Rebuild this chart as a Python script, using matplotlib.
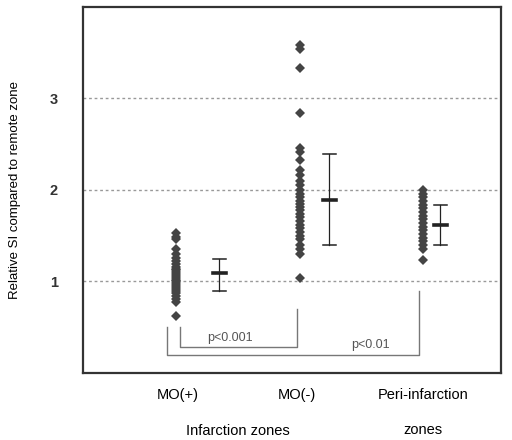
import numpy as np
import matplotlib
matplotlib.use("Agg")
import matplotlib.pyplot as plt

plt.rcParams['font.family'] = ['Liberation Sans', 'DejaVu Sans']

# values
mo_pos = [1.53, 1.49, 1.46, 1.35, 1.30, 1.26, 1.22, 1.19, 1.16, 1.14, 1.12, 1.10,
          1.08, 1.06, 1.04, 1.02, 1.00, 0.98, 0.96, 0.94, 0.92, 0.90, 0.87,
          0.84, 0.81, 0.78, 0.62]
mo_neg = [3.58, 3.54, 3.33, 2.84, 2.46, 2.41, 2.33, 2.22, 2.16, 2.10, 2.05, 2.00,
          1.96, 1.92, 1.88, 1.85, 1.81, 1.78, 1.74, 1.70, 1.66, 1.62, 1.58,
          1.54, 1.50, 1.46, 1.40, 1.35, 1.30, 1.04]
peri = [2.00, 1.96, 1.92, 1.88, 1.84, 1.80, 1.76, 1.72, 1.68, 1.64, 1.60, 1.56,
        1.52, 1.48, 1.44, 1.40, 1.36, 1.23]
groups = [mo_pos, mo_neg, peri]
means = [1.09, 1.89, 1.62]
err_low = [0.90, 1.40, 1.40]
err_high = [1.25, 2.39, 1.83]

yticks = [1, 2, 3]
p_labels = ["p<0.001", "p<0.01"]

# layout
group_x = [0.93, 2.17, 3.40]
err_x = [1.36, 2.46, 3.57]

fig = plt.figure(figsize=(5.12, 4.4), dpi=100)
ax = fig.add_axes([0.162, 0.152, 0.817, 0.833])
ax.set_xlim(0, 4.18)
ax.set_ylim(0, 4)

for y in yticks:
    ax.axhline(y, color='#999999', lw=1, ls=(0, (2, 2)), zorder=0)

# data points
for gx, vals in zip(group_x, groups):
    ax.plot([gx] * len(vals), vals, 'D', color='#444444', markersize=5.2,
            markeredgewidth=0, zorder=3)

# mean +/- error bars
for ex, m, lo, hi in zip(err_x, means, err_low, err_high):
    ax.plot([ex, ex], [lo, hi], color='#222222', lw=0.9)
    ax.plot([ex - 0.065, ex + 0.065], [lo, lo], color='#222222', lw=1.1)
    ax.plot([ex - 0.065, ex + 0.065], [hi, hi], color='#222222', lw=1.1)
    ax.plot([ex - 0.065, ex + 0.065], [m, m], color='#222222', lw=2.6)

# significance brackets
ax.plot([0.97, 0.97, 2.14, 2.14], [0.50, 0.28, 0.28, 0.70], color='#777777', lw=1)
ax.plot([0.84, 0.84, 3.36, 3.36], [0.50, 0.20, 0.20, 0.90], color='#777777', lw=1)
ax.text(1.47, 0.38, p_labels[0], ha='center', va='center', fontsize=9, color='#555555')
ax.text(2.87, 0.31, p_labels[1], ha='center', va='center', fontsize=9, color='#555555')

ax.set_yticks(yticks)
ax.set_yticklabels([str(t) for t in yticks], fontweight='bold', fontsize=10.5,
                   color='#333333')
ax.tick_params(axis='y', length=0, pad=18)
ax.set_xticks([])
for s in ax.spines.values():
    s.set_color('#333333')
    s.set_linewidth(1.6)

# x labels
fig.text(178 / 512, 1 - 395 / 440, "MO(+)", ha='center', va='center', fontsize=10.5)
fig.text(297 / 512, 1 - 395 / 440, "MO(-)", ha='center', va='center', fontsize=10.5)
fig.text(423 / 512, 1 - 395 / 440, "Peri-infarction", ha='center', va='center', fontsize=10.5)
fig.text(423 / 512, 1 - 430 / 440, "zones", ha='center', va='center', fontsize=10.5)
fig.text(238 / 512, 1 - 431 / 440, "Infarction zones", ha='center', va='center', fontsize=10.5)
fig.text(15 / 512, 1 - 190 / 440, "Relative SI compared to remote zone", rotation=90,
         ha='center', va='center', fontsize=9.5)

fig.savefig("out.png", dpi=100)
